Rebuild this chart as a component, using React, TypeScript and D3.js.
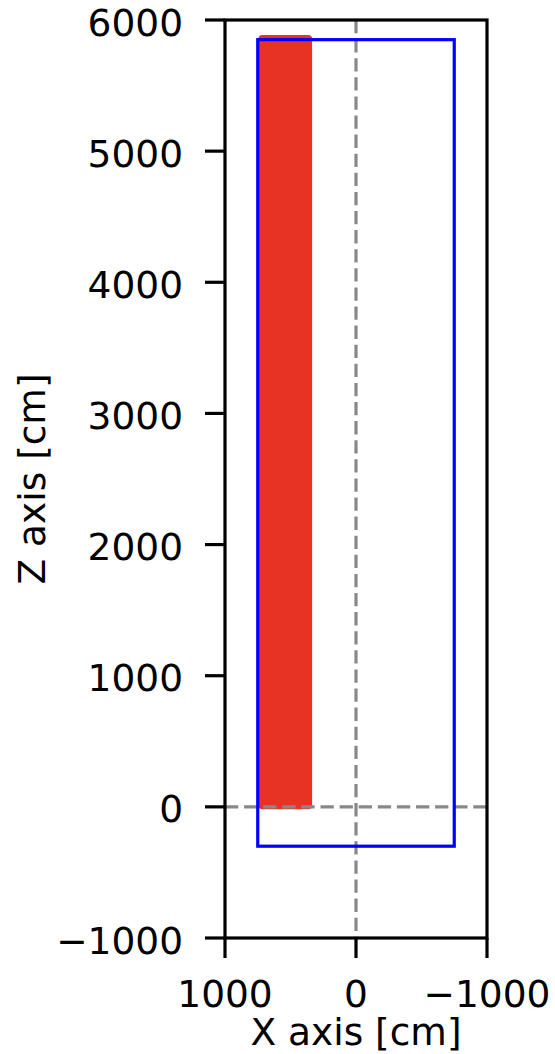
import React from "react";
import * as d3 from "d3";

const xTicks = [1000, 0, -1000];
const zTicks = [6000, 5000, 4000, 3000, 2000, 1000, 0, -1000];
const xDomain = [1000, -1000];
const zDomain = [-1000, 6000];
// detector outline (blue box)
const boxX = [750, -750];
const boxZ = [-300, 5850];
// dense particle scatter extent (red)
const particleX = [745, 335];
const particleZ = [-18, 5885];
const refX = [0];
const refZ = [0];

const W = 555;
const H = 1054;
const M = { left: 225, right: 487, top: 20, bottom: 938 };
const FONT = "DejaVu Sans, sans-serif";
const FS = 37.5;

export default function App() {
  const x = d3.scaleLinear().domain(xDomain).range([M.left, M.right]);
  const y = d3.scaleLinear().domain(zDomain).range([M.bottom, M.top]);
  const fmt = (v: number) => (v < 0 ? "\u2212" + Math.abs(v) : String(v));

  const px0 = x(particleX[0]);
  const px1 = x(particleX[1]);
  const pz0 = y(particleZ[1]);
  const pz1 = y(particleZ[0]);

  return (
    <svg
      width={W}
      height={H}
      style={{ position: "absolute", left: 0, top: 0, background: "#fff" }}
      fontFamily={FONT}
    >
      <defs>
        <clipPath id="plot">
          <rect x={M.left} y={M.top} width={M.right - M.left} height={M.bottom - M.top} />
        </clipPath>
      </defs>
      <g clipPath="url(#plot)">
        <rect
          x={Math.min(px0, px1)}
          y={pz0}
          width={Math.abs(px1 - px0)}
          height={pz1 - pz0}
          rx={4}
          fill="#e63323"
        />
        {refZ.map((v, i) => (
          <line
            key={"hz" + i}
            x1={M.left}
            x2={M.right}
            y1={y(v)}
            y2={y(v)}
            stroke="#888"
            strokeWidth={3.2}
            strokeDasharray="13.3 5.8"
          />
        ))}
        {refX.map((v, i) => (
          <line
            key={"vx" + i}
            x1={x(v)}
            x2={x(v)}
            y1={M.top}
            y2={M.bottom}
            stroke="#888"
            strokeWidth={3.2}
            strokeDasharray="13.3 5.8"
          />
        ))}
        <rect
          x={Math.min(x(boxX[0]), x(boxX[1]))}
          y={y(boxZ[1])}
          width={Math.abs(x(boxX[1]) - x(boxX[0]))}
          height={y(boxZ[0]) - y(boxZ[1])}
          fill="none"
          stroke="#0000ff"
          strokeWidth={3.2}
        />
      </g>
      <rect
        x={M.left}
        y={M.top}
        width={M.right - M.left}
        height={M.bottom - M.top}
        fill="none"
        stroke="#000"
        strokeWidth={3.2}
      />
      {zTicks.map((t) => (
        <g key={"zt" + t}>
          <line x1={M.left - 20} x2={M.left} y1={y(t)} y2={y(t)} stroke="#000" strokeWidth={3.2} />
          <text x={183} y={y(t) + 15.5} textAnchor="end" fontSize={FS} fill="#000">
            {fmt(t)}
          </text>
        </g>
      ))}
      {xTicks.map((t) => (
        <g key={"xt" + t}>
          <line x1={x(t)} x2={x(t)} y1={M.bottom} y2={M.bottom + 20} stroke="#000" strokeWidth={3.2} />
          <text x={x(t)} y={1007} textAnchor="middle" fontSize={FS} fill="#000">
            {fmt(t)}
          </text>
        </g>
      ))}
      <text x={(M.left + M.right) / 2} y={1045} textAnchor="middle" fontSize={FS} fill="#000">
        X axis [cm]
      </text>
      <text
        transform={`translate(45, ${(M.top + M.bottom) / 2}) rotate(-90)`}
        textAnchor="middle"
        fontSize={FS}
        fill="#000"
      >
        Z axis [cm]
      </text>
    </svg>
  );
}
